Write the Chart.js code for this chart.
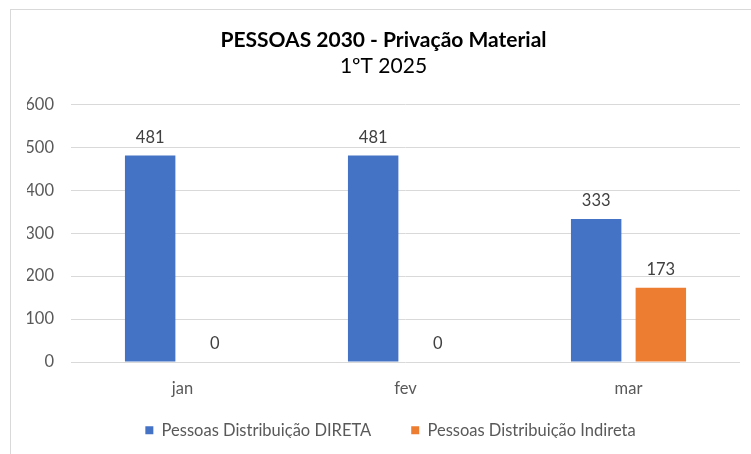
<!DOCTYPE html>
<html><head><meta charset="utf-8">
<script src="https://cdn.jsdelivr.net/npm/chart.js@4/dist/chart.umd.min.js"></script>
<style>
html,body{margin:0;padding:0;background:#fff;overflow:hidden;}
#wrap{position:absolute;left:0;top:0;width:751px;height:454px;}
#frame{position:absolute;left:10px;top:9px;width:800px;height:500px;border:1px solid #d9d9d9;pointer-events:none;}
</style></head>
<body>
<div id="wrap"><canvas id="c" width="751" height="454"></canvas></div>
<div id="frame"></div>
<script>
const categories = ["jan", "fev", "mar"];
const direta = [481, 481, 333];
const indireta = [0, 0, 173];
const seriesNames = ["Pessoas Distribuição DIRETA", "Pessoas Distribuição Indireta"];
const titleText = "PESSOAS 2030 - Privação Material";
const subtitleText = "1ºT 2025";
const yTicks = [0, 100, 200, 300, 400, 500, 600];

const FONT = "Lato, 'Open Sans', sans-serif";
const labelPlugin = {
  id: 'valueLabels',
  afterDatasetsDraw(chart) {
    const ctx = chart.ctx;
    ctx.save();
    ctx.font = "16.5px " + FONT;
    ctx.fillStyle = "#404040";
    ctx.textAlign = "center";
    ctx.textBaseline = "middle";
    chart.data.datasets.forEach((ds, i) => {
      chart.getDatasetMeta(i).data.forEach((el, j) => {
        ctx.fillText(String(ds.data[j]), el.x, el.y - 18);
      });
    });
    ctx.restore();
  }
};
// nudge the legend box (spacing between legend rows and axis labels)
const legendNudge = {
  id: 'legendNudge',
  afterLayout(chart) {
    const lg = chart.legend;
    if (!lg) return;
    lg.top -= 16; lg.bottom -= 16;
    lg.left += 7; lg.right += 7;
  }
};

new Chart(document.getElementById('c'), {
  type: 'bar',
  data: {
    labels: categories,
    datasets: [
      {label: seriesNames[0], data: direta, backgroundColor: '#4472C4', categoryPercentage: 0.58, barPercentage: 0.78},
      {label: seriesNames[1], data: indireta, backgroundColor: '#ED7D31', categoryPercentage: 0.58, barPercentage: 0.78}
    ]
  },
  options: {
    responsive: false,
    animation: false,
    devicePixelRatio: 1,
    layout: {padding: {left: 27, right: 11, top: 20, bottom: 0}},
    plugins: {
      title: {display: true, text: titleText, color: '#000', font: {family: FONT, size: 21, weight: 'bold'}, padding: {top: 8, bottom: 0}},
      subtitle: {display: true, text: subtitleText, color: '#000', font: {family: FONT, size: 21}, padding: {top: 0, bottom: 26}},
      legend: {position: 'bottom', maxHeight: 56, labels: {color: '#595959', font: {family: FONT, size: 16.5}, boxWidth: 8, boxHeight: 8, padding: 40}},
      tooltip: {enabled: false}
    },
    scales: {
      x: {
        afterFit(s) { s.height = 36; },
        grid: {display: false, drawTicks: false},
        border: {display: false},
        ticks: {color: '#595959', font: {family: FONT, size: 16.5}, padding: 17}
      },
      y: {
        min: 0, max: 600,
        afterFit(s) { s.width = 44; },
        afterBuildTicks(s) { s.ticks = yTicks.map(v => ({value: v})); },
        grid: {color: '#d9d9d9', drawTicks: false},
        border: {display: false},
        ticks: {color: '#595959', font: {family: FONT, size: 16.5}, padding: 17}
      }
    }
  },
  plugins: [labelPlugin, legendNudge]
});
</script>
</body></html>
